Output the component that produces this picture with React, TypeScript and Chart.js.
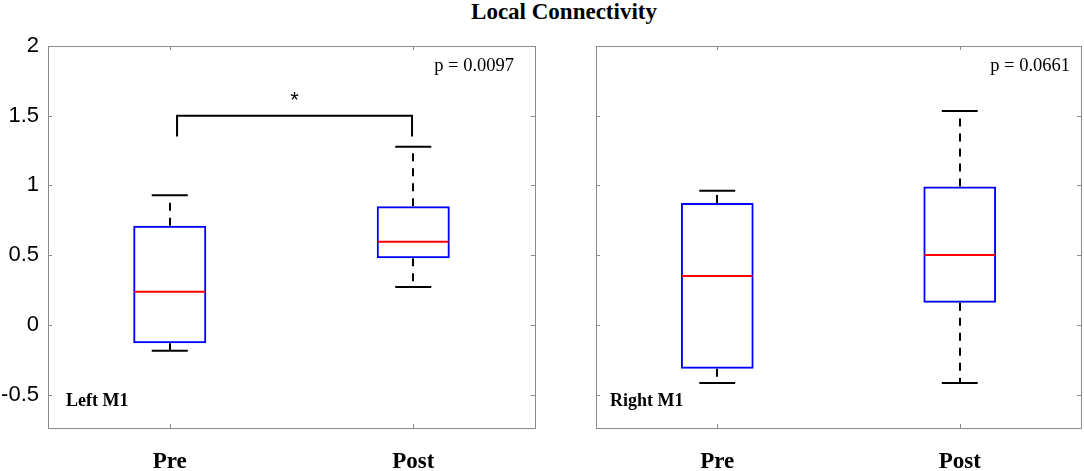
import React, { useEffect, useRef } from "react";
import { Chart, registerables } from "chart.js";
Chart.register(...registerables);

// ---- data ----
const categories = ["Pre", "Post"];
const yTickValues = [-0.5, 0, 0.5, 1, 1.5, 2];
const yMin = -0.74;
const yMax = 2;

const leftLowerWhisker = [-0.186, 0.271];
const leftQ1 = [-0.133, 0.477];
const leftMedian = [0.237, 0.596];
const leftQ3 = [0.711, 0.85];
const leftUpperWhisker = [0.929, 1.278];

const rightLowerWhisker = [-0.418, -0.418];
const rightQ1 = [-0.315, 0.159];
const rightMedian = [0.35, 0.5];
const rightQ3 = [0.874, 0.993];
const rightUpperWhisker = [0.962, 1.534];

const panelNames = ["Left M1", "Right M1"];
const pValueTexts = ["p = 0.0097", "p = 0.0661"];
const chartTitle = "Local Connectivity";

// significance bracket (left panel): category index span and heights
const bracketFrom = 0.03;
const bracketTo = 0.995;
const bracketTop = 1.5;
const bracketFoot = 1.35;
const bracketMark = "*";

const SERIF = "'Liberation Serif', 'Times New Roman', serif";
const SANS = "'Liberation Sans', Arial, sans-serif";

type PanelData = {
  lo: number[];
  q1: number[];
  med: number[];
  q3: number[];
  hi: number[];
  name: string;
  p: string;
  pRight: number;
  nameLeft: number;
  bracket: boolean;
};

const panels: PanelData[] = [
  { lo: leftLowerWhisker, q1: leftQ1, med: leftMedian, q3: leftQ3, hi: leftUpperWhisker, name: panelNames[0], p: pValueTexts[0], pRight: 21, nameLeft: 18, bracket: true },
  { lo: rightLowerWhisker, q1: rightQ1, med: rightMedian, q3: rightQ3, hi: rightUpperWhisker, name: panelNames[1], p: pValueTexts[1], pRight: 11, nameLeft: 14, bracket: false },
];

function makePlugin(pd: PanelData) {
  return {
    id: "boxExtras",
    beforeDatasetsDraw(chart: any) {
      const { ctx, scales } = chart;
      const x = scales.x;
      const y = scales.y;
      ctx.save();
      ctx.strokeStyle = "#000";
      ctx.lineWidth = 2;
      ctx.setLineDash([8, 7]);
      for (let i = 0; i < categories.length; i++) {
        const px = Math.round(x.getPixelForValue(i));
        ctx.beginPath();
        ctx.moveTo(px, y.getPixelForValue(pd.q3[i]));
        ctx.lineTo(px, y.getPixelForValue(pd.hi[i]));
        ctx.stroke();
        ctx.beginPath();
        ctx.moveTo(px, y.getPixelForValue(pd.q1[i]));
        ctx.lineTo(px, y.getPixelForValue(pd.lo[i]));
        ctx.stroke();
      }
      ctx.setLineDash([]);
      for (let i = 0; i < categories.length; i++) {
        const x0 = x.getPixelForValue(i - 0.074);
        const x1 = x.getPixelForValue(i + 0.074);
        for (const v of [pd.hi[i], pd.lo[i]]) {
          const py = y.getPixelForValue(v);
          ctx.beginPath();
          ctx.moveTo(x0, py);
          ctx.lineTo(x1, py);
          ctx.stroke();
        }
      }
      ctx.restore();
    },
    afterDatasetsDraw(chart: any) {
      const { ctx, scales } = chart;
      const x = scales.x;
      const y = scales.y;
      ctx.save();
      ctx.strokeStyle = "#ff0000";
      ctx.lineWidth = 2;
      for (let i = 0; i < categories.length; i++) {
        const py = y.getPixelForValue(pd.med[i]);
        ctx.beginPath();
        ctx.moveTo(x.getPixelForValue(i - 0.15) + 1, py);
        ctx.lineTo(x.getPixelForValue(i + 0.15) - 1, py);
        ctx.stroke();
      }
      if (pd.bracket) {
        ctx.strokeStyle = "#000";
        ctx.lineWidth = 2;
        const bx0 = x.getPixelForValue(bracketFrom);
        const bx1 = x.getPixelForValue(bracketTo);
        const by = y.getPixelForValue(bracketTop);
        const bf = y.getPixelForValue(bracketFoot);
        ctx.beginPath();
        ctx.moveTo(bx0, bf);
        ctx.lineTo(bx0, by);
        ctx.lineTo(bx1, by);
        ctx.lineTo(bx1, bf);
        ctx.stroke();
        ctx.fillStyle = "#000";
        ctx.font = `22px ${SANS}`;
        ctx.textAlign = "center";
        ctx.textBaseline = "alphabetic";
        ctx.fillText(bracketMark, (bx0 + bx1) / 2, by - 9);
      }
      ctx.restore();
    },
    afterDraw(chart: any) {
      const { ctx, scales, chartArea: a } = chart;
      const x = scales.x;
      const y = scales.y;
      ctx.save();
      ctx.strokeStyle = "#8c8c8c";
      ctx.lineWidth = 1;
      ctx.strokeRect(Math.round(a.left) + 0.5, Math.round(a.top) + 0.5, Math.round(a.right - a.left), Math.round(a.bottom - a.top));
      ctx.beginPath();
      for (const v of yTickValues) {
        const py = Math.round(y.getPixelForValue(v)) + 0.5;
        ctx.moveTo(a.left, py);
        ctx.lineTo(a.left + 4, py);
        ctx.moveTo(a.right, py);
        ctx.lineTo(a.right - 4, py);
      }
      for (let i = 0; i < categories.length; i++) {
        const px = Math.round(x.getPixelForValue(i)) + 0.5;
        ctx.moveTo(px, a.top);
        ctx.lineTo(px, a.top + 4);
        ctx.moveTo(px, a.bottom);
        ctx.lineTo(px, a.bottom - 4);
      }
      ctx.stroke();
      ctx.fillStyle = "#000";
      ctx.font = `18.5px ${SERIF}`;
      ctx.textAlign = "right";
      ctx.textBaseline = "middle";
      ctx.fillText(pd.p, a.right - pd.pRight, a.top + 20);
      ctx.font = `bold 18px ${SERIF}`;
      ctx.textAlign = "left";
      ctx.fillText(pd.name, a.left + pd.nameLeft, a.bottom - 27);
      ctx.restore();
    },
  };
}

function buildChart(canvas: HTMLCanvasElement, pd: PanelData, showY: boolean, yWidth: number, padRight: number) {
  return new Chart(canvas, {
    type: "bar",
    data: {
      labels: categories,
      datasets: [
        {
          data: categories.map((_, i) => [pd.q1[i], pd.q3[i]]) as any,
          backgroundColor: "rgba(0,0,0,0)",
          borderColor: "#0000ff",
          borderWidth: 2,
          borderSkipped: false,
          barPercentage: 0.3,
          categoryPercentage: 1,
        },
      ],
    },
    options: {
      responsive: false,
      animation: false,
      events: [],
      layout: { padding: { top: 46, left: 0, right: padRight, bottom: 0 } },
      plugins: { legend: { display: false }, tooltip: { enabled: false }, title: { display: false } },
      scales: {
        x: {
          type: "category",
          offset: true,
          grid: { display: false, drawTicks: false },
          border: { display: false },
          ticks: {
            color: "#000",
            font: { family: SERIF, size: 23, weight: "bold" },
            padding: 20,
            maxRotation: 0,
          },
          afterFit: (s: any) => {
            s.height = 43;
          },
        },
        y: {
          type: "linear",
          min: yMin,
          max: yMax,
          grid: { display: false, drawTicks: false },
          border: { display: false },
          afterBuildTicks: (s: any) => {
            s.ticks = yTickValues.map((v) => ({ value: v }));
          },
          ticks: {
            display: showY,
            color: "#000",
            font: { family: SANS, size: 22 },
            padding: 9,
            callback: (v: any) => String(v),
          },
          afterFit: (s: any) => {
            s.width = yWidth;
          },
        },
      },
    },
    plugins: [makePlugin(pd)],
  } as any);
}

export default function App() {
  const ref1 = useRef<HTMLCanvasElement>(null);
  const ref2 = useRef<HTMLCanvasElement>(null);
  useEffect(() => {
    document.body.style.margin = "0";
    const c1 = buildChart(ref1.current!, panels[0], true, 48, 10);
    const c2 = buildChart(ref2.current!, panels[1], false, 51, 3);
    return () => {
      c1.destroy();
      c2.destroy();
    };
  }, []);
  return (
    <div style={{ position: "fixed", left: 0, top: 0, width: 1084, height: 471, background: "#fff", overflow: "hidden" }}>
      <span
        style={{
          position: "absolute",
          left: 564,
          top: 0,
          transform: "translateX(-50%)",
          whiteSpace: "nowrap",
          fontFamily: SERIF,
          fontWeight: "bold",
          fontSize: 23,
          lineHeight: "24px",
          color: "#000",
        }}
      >
        {chartTitle}
      </span>
      <canvas ref={ref1} width={545} height={471} style={{ position: "absolute", left: 0, top: 0 }} />
      <canvas ref={ref2} width={539} height={471} style={{ position: "absolute", left: 545, top: 0 }} />
    </div>
  );
}
